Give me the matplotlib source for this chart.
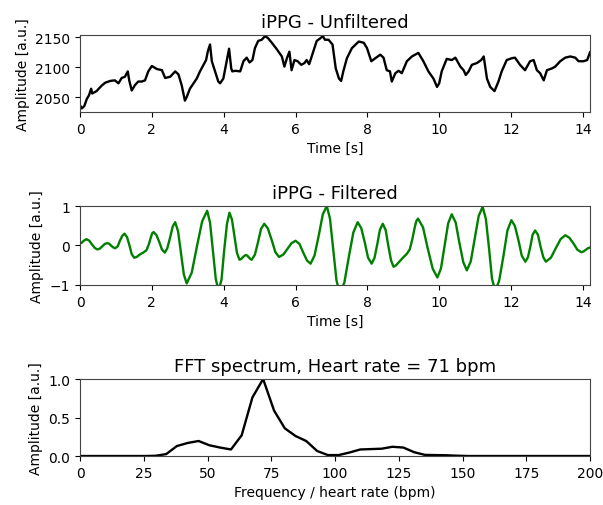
import matplotlib
matplotlib.use("Agg")
import matplotlib.pyplot as plt

# iPPG rohsignal (unfiltered)
t_raw = [0.00, 0.05, 0.12, 0.19, 0.25, 0.31, 0.34, 0.46, 0.60, 0.70,
         0.84, 0.97, 1.07, 1.16, 1.25, 1.33, 1.37, 1.44, 1.53, 1.62,
         1.72, 1.81, 1.90, 2.00, 2.14, 2.28, 2.37, 2.51, 2.65, 2.74,
         2.83, 2.92, 2.97, 3.06, 3.16, 3.25, 3.34, 3.44, 3.51, 3.56,
         3.62, 3.67, 3.76, 3.85, 3.90, 3.99, 4.09, 4.15, 4.21, 4.24,
         4.32, 4.46, 4.55, 4.64, 4.72, 4.80, 4.87, 4.96, 5.06, 5.15,
         5.23, 5.34, 5.48, 5.62, 5.69, 5.76, 5.83, 5.89, 5.97, 6.06,
         6.16, 6.25, 6.31, 6.38, 6.50, 6.59, 6.68, 6.76, 6.82, 6.92,
         7.03, 7.12, 7.21, 7.27, 7.33, 7.43, 7.57, 7.76, 7.90, 7.99,
         8.11, 8.22, 8.36, 8.45, 8.54, 8.63, 8.68, 8.78, 8.87, 8.96,
         9.10, 9.24, 9.33, 9.42, 9.50, 9.56, 9.70, 9.84, 9.94, 10.00,
         10.07, 10.21, 10.35, 10.45, 10.59, 10.68, 10.74, 10.82, 10.91, 11.05,
         11.17, 11.24, 11.33, 11.42, 11.54, 11.65, 11.74, 11.88, 12.02, 12.11,
         12.25, 12.39, 12.53, 12.63, 12.72, 12.81, 12.91, 13.00, 13.14, 13.23,
         13.37, 13.51, 13.65, 13.79, 13.88, 14.02, 14.12, 14.20]
amp_raw = [2036, 2031, 2035, 2047, 2053, 2064, 2056, 2060, 2069, 2074,
           2077, 2078, 2073, 2082, 2084, 2093, 2078, 2061, 2070, 2076,
           2076, 2078, 2093, 2102, 2097, 2095, 2082, 2084, 2093, 2088,
           2070, 2044, 2050, 2064, 2073, 2081, 2093, 2104, 2112, 2127,
           2138, 2110, 2093, 2076, 2073, 2081, 2112, 2131, 2098, 2093,
           2094, 2093, 2110, 2116, 2108, 2112, 2132, 2144, 2146, 2152,
           2149, 2141, 2130, 2118, 2101, 2115, 2126, 2095, 2112, 2110,
           2104, 2107, 2112, 2105, 2127, 2144, 2148, 2152, 2146, 2146,
           2138, 2098, 2081, 2077, 2093, 2115, 2132, 2143, 2141, 2132,
           2110, 2115, 2121, 2116, 2095, 2093, 2076, 2090, 2094, 2090,
           2110, 2118, 2121, 2124, 2116, 2110, 2093, 2081, 2067, 2073,
           2093, 2114, 2112, 2116, 2101, 2095, 2087, 2093, 2104, 2107,
           2112, 2118, 2081, 2067, 2060, 2076, 2093, 2112, 2115, 2116,
           2104, 2095, 2110, 2112, 2095, 2090, 2078, 2095, 2098, 2101,
           2110, 2116, 2118, 2116, 2110, 2110, 2112, 2125]

# gefiltertes signal
t_filt = [0.00, 0.05, 0.09, 0.14, 0.18, 0.26, 0.33, 0.41, 0.48, 0.55,
          0.62, 0.69, 0.76, 0.82, 0.87, 0.93, 0.98, 1.05, 1.11, 1.18,
          1.24, 1.31, 1.38, 1.44, 1.51, 1.58, 1.66, 1.76, 1.85, 1.92,
          1.97, 2.01, 2.05, 2.13, 2.21, 2.28, 2.36, 2.43, 2.51, 2.58,
          2.65, 2.73, 2.81, 2.89, 2.97, 3.11, 3.26, 3.40, 3.54, 3.62,
          3.70, 3.78, 3.86, 3.94, 4.01, 4.09, 4.16, 4.23, 4.30, 4.37,
          4.44, 4.49, 4.53, 4.58, 4.62, 4.66, 4.70, 4.74, 4.78, 4.87,
          4.96, 5.04, 5.13, 5.23, 5.34, 5.44, 5.54, 5.66, 5.77, 5.89,
          6.00, 6.11, 6.21, 6.32, 6.42, 6.53, 6.65, 6.76, 6.87, 6.96,
          7.05, 7.14, 7.23, 7.36, 7.48, 7.61, 7.73, 7.83, 7.93, 8.02,
          8.12, 8.20, 8.28, 8.35, 8.43, 8.51, 8.58, 8.66, 8.73, 8.80,
          8.90, 9.00, 9.10, 9.18, 9.25, 9.31, 9.36, 9.41, 9.55, 9.68,
          9.82, 9.95, 10.05, 10.15, 10.25, 10.35, 10.46, 10.56, 10.67, 10.77,
          10.88, 10.99, 11.10, 11.21, 11.30, 11.39, 11.47, 11.56, 11.67, 11.79,
          11.90, 12.01, 12.11, 12.21, 12.30, 12.40, 12.47, 12.54, 12.60, 12.67,
          12.75, 12.82, 12.90, 12.97, 13.11, 13.24, 13.38, 13.51, 13.62, 13.74,
          13.85, 13.96, 14.02, 14.08, 14.14, 14.20]
amp_filt = [0.05, 0.07, 0.11, 0.14, 0.16, 0.12, 0.03, -0.06, -0.10, -0.08,
            -0.02, 0.04, 0.06, 0.04, -0.01, -0.05, -0.07, -0.02, 0.12, 0.25,
            0.30, 0.21, -0.01, -0.22, -0.31, -0.29, -0.23, -0.18, -0.12, 0.04,
            0.20, 0.31, 0.34, 0.26, 0.08, -0.10, -0.18, -0.07, 0.21, 0.48,
            0.59, 0.36, -0.19, -0.73, -0.96, -0.69, 0.00, 0.61, 0.88, 0.58,
            -0.14, -0.85, -1.15, -0.86, -0.16, 0.54, 0.83, 0.66, 0.24, -0.19,
            -0.36, -0.34, -0.30, -0.26, -0.24, -0.26, -0.30, -0.34, -0.36, -0.23,
            0.10, 0.42, 0.55, 0.43, 0.13, -0.17, -0.29, -0.23, -0.09, 0.06,
            0.12, 0.04, -0.17, -0.38, -0.46, -0.25, 0.27, 0.79, 1.00, 0.68,
            -0.10, -0.88, -1.20, -0.94, -0.31, 0.33, 0.59, 0.44, 0.07, -0.31,
            -0.46, -0.31, 0.05, 0.40, 0.55, 0.39, 0.01, -0.38, -0.54, -0.50,
            -0.40, -0.30, -0.21, -0.10, 0.15, 0.42, 0.61, 0.68, 0.46, -0.07,
            -0.59, -0.81, -0.58, -0.01, 0.56, 0.79, 0.58, 0.08, -0.42, -0.63,
            -0.40, 0.18, 0.75, 0.98, 0.67, -0.09, -0.84, -1.15, -0.89, -0.26,
            0.38, 0.64, 0.49, 0.12, -0.26, -0.41, -0.30, -0.02, 0.27, 0.38,
            0.27, -0.02, -0.30, -0.41, -0.31, -0.08, 0.16, 0.26, 0.20, 0.05,
            -0.11, -0.17, -0.15, -0.11, -0.07, -0.05]

# FFT spektrum (bpm)
freq_bpm = [0.0, 4.2, 8.5, 12.7, 16.9, 21.1, 25.4, 29.6, 33.8, 38.0,
            42.3, 46.5, 50.7, 54.9, 59.2, 63.4, 67.6, 71.8, 76.1, 80.3,
            84.5, 88.7, 93.0, 97.2, 101.4, 105.6, 109.9, 114.1, 118.3, 122.5,
            126.8, 131.0, 135.2, 139.4, 143.7, 147.9, 152.1, 200.0]
spec = [0.0, 0.0, 0.0, 0.0, 0.0, 0.0, 0.0, 0.003, 0.025, 0.13,
        0.17, 0.195, 0.14, 0.11, 0.085, 0.27, 0.76, 1.0, 0.59, 0.36,
        0.26, 0.195, 0.065, 0.012, 0.012, 0.045, 0.085, 0.09, 0.095, 0.12,
        0.11, 0.05, 0.015, 0.012, 0.01, 0.004, 0.0, 0.0]
heart_rate = 71

fig = plt.figure(figsize=(6.03, 5.06), dpi=100)
tick_fs = 10
label_fs = 10
title_fs = 13

# Unfiltered
ax1 = fig.add_axes([0.1327, 0.7767, 0.8458, 0.1522])
ax1.plot(t_raw, amp_raw, color="black", lw=1.7)
ax1.set_xlim(0, 14.2)
ax1.set_ylim(2025, 2154)
ax1.set_yticks([2050, 2100, 2150])
ax1.set_xticks(range(0, 15, 2))
ax1.set_title("iPPG - Unfiltered", fontsize=title_fs)
ax1.set_xlabel("Time [s]", fontsize=label_fs)
ax1.set_ylabel("Amplitude [a.u.]", fontsize=label_fs)

# Filtered
ax2 = fig.add_axes([0.1327, 0.4348, 0.8458, 0.1561])
ax2.plot(t_filt, amp_filt, color="green", lw=1.7)
ax2.set_xlim(0, 14.2)
ax2.set_ylim(-1, 1)
ax2.set_yticks([-1, 0, 1])
ax2.set_xticks(range(0, 15, 2))
ax2.set_title("iPPG - Filtered", fontsize=title_fs)
ax2.set_xlabel("Time [s]", fontsize=label_fs)
ax2.set_ylabel("Amplitude [a.u.]", fontsize=label_fs)

# FFT
ax3 = fig.add_axes([0.1327, 0.0968, 0.8458, 0.1522])
ax3.plot(freq_bpm, spec, color="black", lw=1.7)
ax3.set_xlim(0, 200)
ax3.set_ylim(0, 1.0)
ax3.set_yticks([0.0, 0.5, 1.0])
ax3.set_xticks(range(0, 201, 25))
ax3.set_title("FFT spectrum, Heart rate = %d bpm" % heart_rate, fontsize=title_fs)
ax3.set_xlabel("Frequency / heart rate (bpm)", fontsize=label_fs)
ax3.set_ylabel("Amplitude [a.u.]", fontsize=label_fs)

for ax in [ax1, ax2, ax3]:
    ax.tick_params(labelsize=tick_fs)
    for sp in ax.spines.values():
        sp.set_color("#444444")

plt.savefig("out.png", dpi=100)
plt.close()
